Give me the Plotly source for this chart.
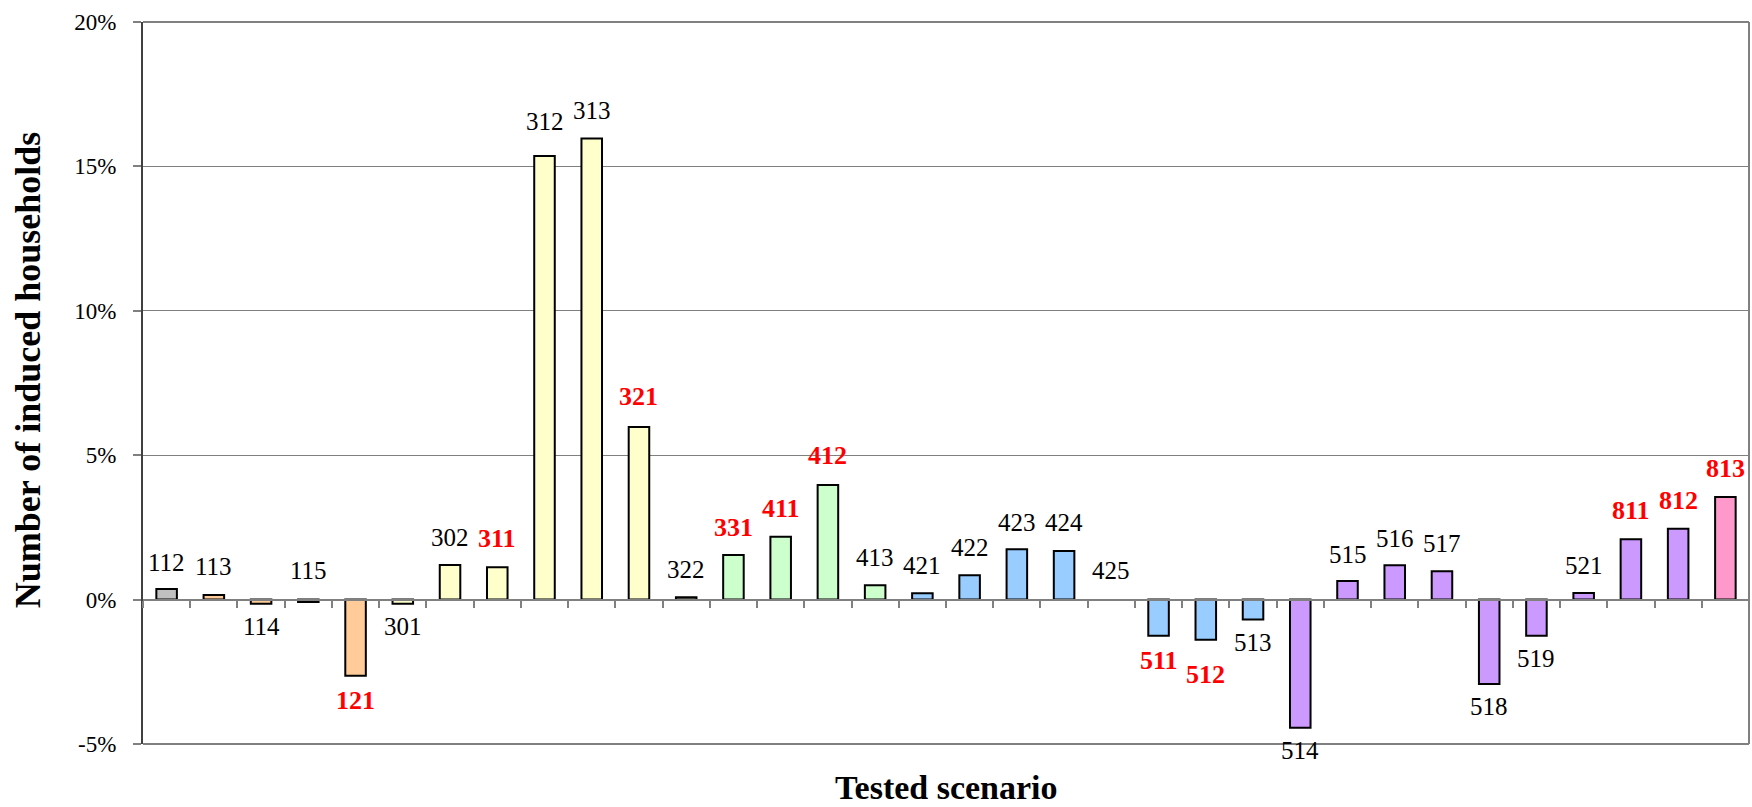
import plotly.graph_objects as go

# ---- data -------------------------------------------------------------
scenarios = ["112", "113", "114", "115", "121", "301", "302", "311", "312", "313",
             "321", "322", "331", "411", "412", "413", "421", "422", "423", "424",
             "425", "511", "512", "513", "514", "515", "516", "517", "518", "519",
             "521", "811", "812", "813"]
values_pct = [0.37, 0.16, -0.14, -0.08, -2.64, -0.14, 1.20, 1.12, 15.36, 15.97,
              5.98, 0.08, 1.54, 2.18, 3.97, 0.50, 0.22, 0.84, 1.74, 1.68,
              0.0, -1.25, -1.39, -0.69, -4.44, 0.64, 1.19, 0.98, -2.92, -1.25,
              0.23, 2.09, 2.45, 3.55]
highlighted = ["121", "311", "321", "331", "411", "412", "511", "512", "811", "812", "813"]
y_tick_vals = [-5, 0, 5, 10, 15, 20]
y_tick_text = ["-5%", "0%", "5%", "10%", "15%", "20%"]

# ---- styles -----------------------------------------------------------
bar_colors = (["#C0C0C0"] + ["#FFCC99"] * 4 + ["#FFFFCC"] * 7 + ["#CCFFCC"] * 4
              + ["#99CCFF"] * 8 + ["#CC99FF"] * 9 + ["#FF99CC"])
# label offset from bar end in px (positive = downward)
label_offsets = [-26, -28, 23, -31, 25, 23, -27, -29, -35, -28,
                 -30, -28, -28, -28, -29, -28, -28, -28, -27, -29,
                 -29, 25, 35, 23, 23, -27, -27, -28, 23, 23,
                 -27, -29, -28, -29]
outline_widths = [0 if v == 0 else 2 for v in values_pct]

FONT = "Liberation Serif, Times New Roman, serif"
GRID = "#808080"

fig = go.Figure()
fig.add_trace(go.Bar(
    x=scenarios,
    y=values_pct,
    marker=dict(color=bar_colors, line=dict(color="black", width=outline_widths)),
    showlegend=False,
    hoverinfo="x+y",
))

annotations = []
for i, (s, v, off) in enumerate(zip(scenarios, values_pct, label_offsets)):
    hi = s in highlighted
    annotations.append(dict(
        x=i, y=v, xref="x", yref="y", text=s, showarrow=False,
        yshift=-off, xanchor="center", yanchor="middle",
        font=dict(family=FONT, size=26 if hi else 25,
                  color="#FF0000" if hi else "black",
                  weight="bold" if hi else "normal"),
    ))

annotations.append(dict(
    text="Number of induced households", textangle=-90, showarrow=False,
    xref="paper", yref="paper", x=-0.0715, y=0.518, xanchor="center", yanchor="middle",
    font=dict(family=FONT, size=36, color="black", weight="bold"),
))
annotations.append(dict(
    text="Tested scenario", showarrow=False,
    xref="paper", yref="paper", x=0.5, y=-0.06, xanchor="center", yanchor="middle",
    font=dict(family=FONT, size=34, color="black", weight="bold"),
))

shapes = [
    dict(type="line", xref="paper", yref="paper", x0=0, x1=1, y0=1, y1=1,
         line=dict(color=GRID, width=2)),
    dict(type="line", xref="paper", yref="paper", x0=1, x1=1, y0=0, y1=1,
         line=dict(color=GRID, width=2)),
    dict(type="line", xref="paper", yref="paper", x0=0, x1=1, y0=0, y1=0,
         line=dict(color=GRID, width=2)),
]

fig.update_layout(
    width=1752, height=807,
    margin=dict(l=143, r=3, t=22, b=63),
    paper_bgcolor="white", plot_bgcolor="white",
    bargap=0.565,
    annotations=annotations,
    shapes=shapes,
    font=dict(family=FONT, color="black"),
    xaxis=dict(
        type="category", categoryorder="array", categoryarray=scenarios,
        range=[-0.5, len(scenarios) - 0.5],
        anchor="free", position=0.2, side="bottom",
        showline=True, linecolor=GRID, linewidth=2,
        ticks="outside", tickson="boundaries", ticklen=7, tickwidth=1.5, tickcolor=GRID,
        showticklabels=False, showgrid=False, zeroline=False,
    ),
    yaxis=dict(
        range=[-5, 20], tickvals=y_tick_vals, ticktext=y_tick_text,
        showgrid=True, gridcolor=GRID, gridwidth=1, zeroline=False,
        showline=True, linecolor="#404040", linewidth=2,
        ticks="outside", ticklen=8, tickwidth=1.5, tickcolor=GRID,
        tickfont=dict(family=FONT, size=23, color="black"),
        ticklabelstandoff=12,
    ),
)

fig.write_html("out.html", config={"displayModeBar": False},
               post_script="document.body.style.margin='0px';")
